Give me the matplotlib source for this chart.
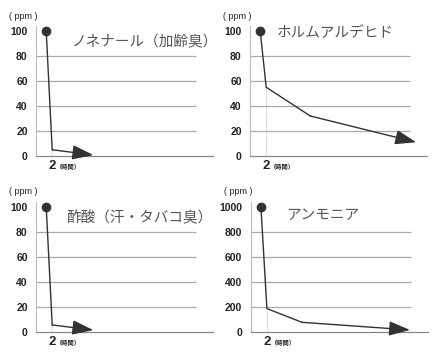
import matplotlib.pyplot as plt

plt.rcParams["font.family"] = ["Liberation Sans", "Noto Sans CJK JP"]

titles = ["ノネナール（加齢臭）", "ホルムアルデヒド", "酢酸（汗・タバコ臭）", "アンモニア"]

hours_nonenal = [0, 2, 15.7]
ppm_nonenal = [100, 5, 0.8]

hours_formal = [0, 2, 16.7, 52]
ppm_formal = [100, 55, 32, 11]

hours_acetic = [0, 2, 15.7]
ppm_acetic = [100, 5.4, 1.3]

hours_ammonia = [0, 2, 13.7, 49.7]
ppm_ammonia = [1000, 185, 75, 14]

yticks_small = [0, 20, 40, 60, 80, 100]
yticks_big = [0, 200, 400, 600, 800, 1000]

series = [
    (hours_nonenal, ppm_nonenal, yticks_small),
    (hours_formal, ppm_formal, yticks_small),
    (hours_acetic, ppm_acetic, yticks_small),
    (hours_ammonia, ppm_ammonia, yticks_big),
]

# axes boxes in pixels: left, bottom-from-top
boxes = [(36, 156), (250, 156), (36, 331.7), (250.7, 331.7)]
title_pos = [(0.203, 0.877), (0.15, 0.946), (0.173, 0.872), (0.203, 0.898)]

W, H = 440, 360
fig = plt.figure(figsize=(4.4, 3.6), dpi=100)

line_col = "#333333"

for (x, y, yt), (lx, by), title, (tx, ty) in zip(series, boxes, titles, title_pos):
    ax = fig.add_axes([lx / W, (H - by) / H, 177 / W, 130 / H])
    top = yt[-1]
    ax.set_xlim(-3.4, 55.6)
    ax.set_ylim(0, top * 1.04)

    ax.hlines(yt[1:-1], -3.4, 50, color="#aaaaaa", lw=0.9, zorder=1)
    ax.vlines(x[1], 0, y[1], color="#999999", lw=0.6, linestyles=":", zorder=1)

    ax.plot(x[:-1], y[:-1], color=line_col, lw=1.0, zorder=3)
    ax.plot(x[0], y[0], "o", color=line_col, ms=6, clip_on=False, zorder=4)
    ax.annotate(
        "",
        xy=(x[-1], y[-1]),
        xytext=(x[-2], y[-2]),
        arrowprops=dict(
            arrowstyle="-|>,head_length=1.3,head_width=0.45",
            color=line_col,
            lw=1.0,
            shrinkA=0,
            shrinkB=0,
        ),
        zorder=3,
    )

    for s in ["top", "right"]:
        ax.spines[s].set_visible(False)
    ax.spines["left"].set_color("#bbbbbb")
    ax.spines["left"].set_linewidth(0.8)
    ax.spines["bottom"].set_color("#888888")
    ax.spines["bottom"].set_linewidth(0.9)

    ax.set_yticks(yt)
    ax.set_xticks([2])
    ax.set_xticklabels(["2"])
    ax.tick_params(axis="y", length=0, pad=6, labelsize=7.5, labelcolor="#222222")
    ax.tick_params(axis="x", length=0, pad=3, labelsize=9.5, labelcolor="#222222")
    for lab in ax.get_yticklabels():
        lab.set_fontweight("bold")
    for lab in ax.get_xticklabels():
        lab.set_fontweight("bold")

    ax.text(
        3.3, -0.08, "（時間）", transform=ax.get_xaxis_transform(),
        fontsize=4.5, color="#222222", family="Noto Sans CJK JP",
        ha="left", va="center", fontweight="bold",
    )
    ax.text(
        -0.07, 1.075, "( ppm )", transform=ax.transAxes,
        fontsize=6.5, color="#222222", ha="center", va="center",
    )
    ax.text(
        tx, ty, title, transform=ax.transAxes,
        fontsize=10.5, color="#555555", family="Noto Sans CJK JP",
        ha="left", va="center",
    )

fig.savefig("out.png", dpi=100)
